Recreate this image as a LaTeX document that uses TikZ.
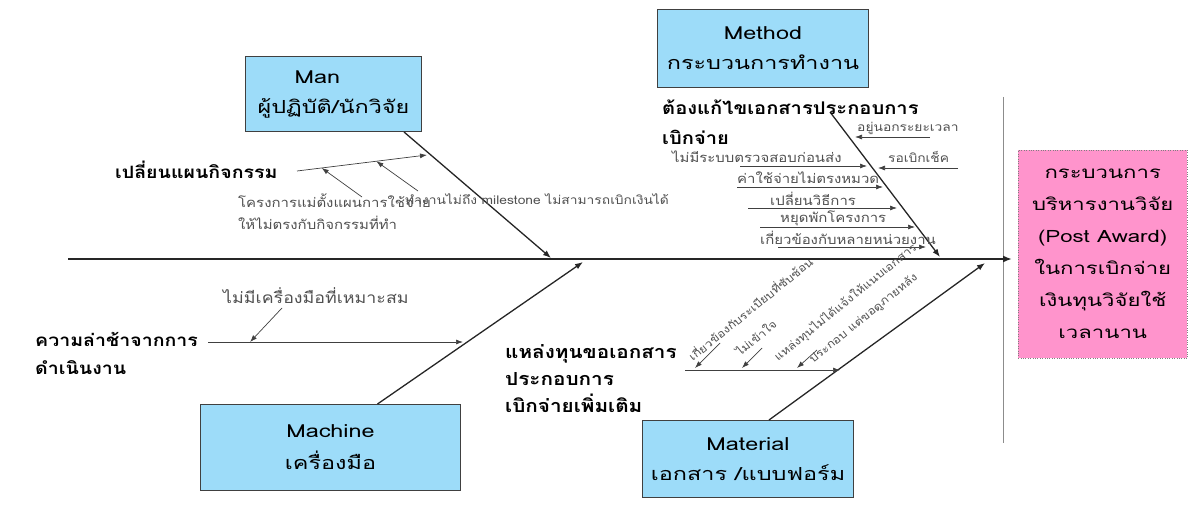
\documentclass[tikz,border=0pt]{standalone}
\usepackage{fontspec}
\setmainfont[Script=Thai,FakeStretch=1.3]{Loma}
\newfontfamily\notefont[Script=Thai,FakeStretch=1.15]{Loma}
\usetikzlibrary{arrows.meta,positioning,calc}
\definecolor{boxblue}{HTML}{9DDCF9}
\definecolor{effectpink}{HTML}{FF94CC}
\definecolor{notegray}{HTML}{505050}
\tikzset{
    catbox/.style={draw=black!75,fill=boxblue,line width=1pt,anchor=north west,inner sep=0pt,font=\fontsize{18}{30}\selectfont},
    effectbox/.style={draw=black!50,dotted,fill=effectpink,anchor=north west,inner sep=0pt,align=center,font=\fontsize{17}{32}\selectfont},
    spine/.style={line width=2.2pt,black!85,-{Latex[length=9pt,width=7pt]}},
    bone/.style={line width=1.3pt,black!85,-{Latex[length=8pt,width=6pt]}},
    twig/.style={line width=0.7pt,black!75,-{Latex[length=7pt,width=5pt]}},
    cause/.style={font=\notefont\bfseries\fontsize{17}{29}\selectfont,align=left,inner sep=0pt,anchor=west},
    note/.style={text=notegray,font=\notefont\fontsize{13}{22}\selectfont,align=left,inner sep=0pt,anchor=west},
    tilted/.style={text=notegray,font=\notefont\fontsize{11}{14}\selectfont,inner sep=0pt,anchor=south west,rotate=39},
}
\begin{document}
\begin{tikzpicture}[x=1pt,y=-1pt]
        \useasboundingbox (0,0) rectangle (1189,508);

        \node[effectbox,minimum width=169pt,minimum height=208pt] (effect) at (1018,150)
            {กระบวนการ\\บริหารงานวิจัย\\(Post Award)\\ในการเบิกจ่าย\\เงินทุนวิจัยใช้\\เวลานาน};
        \draw[black!45,line width=1pt] (1003,97) -- (1003,443);
        \coordinate (head) at (68,259);
        \draw[spine,shorten >=6pt] (head) -- (head -| effect.west);

        \node[catbox,minimum width=176pt,minimum height=75pt,align=left] (man) at (245,56)
            {\hspace*{37pt}Man\\ผู้ปฏิบัติ/นักวิจัย};
        \node[catbox,minimum width=211pt,minimum height=78pt,align=center] (method) at (657,9)
            {Method\\กระบวนการทำงาน};
        \node[catbox,minimum width=260pt,minimum height=86pt,align=center,font=\fontsize{18}{32}\selectfont] (machine) at (200,404)
            {Machine\\เครื่องมือ};
        \node[catbox,minimum width=211pt,minimum height=77pt,align=center] (material) at (642,420)
            {Material\\เอกสาร /แบบฟอร์ม};

        \coordinate (manfoot) at (551,258);
        \coordinate (methodtop) at (830,112);
        \coordinate (methodfoot) at (940,257);
        \coordinate (machinefoot) at (583,262);
        \coordinate (materialfoot) at (985,263);
        \draw[bone] ([xshift=-18pt]man.south east) -- (manfoot);
        \draw[bone] (methodtop) -- (methodfoot);
        \draw[bone] ([xshift=47pt]machine.north) -- (machinefoot);
        \draw[bone] ([xshift=21pt]material.north) -- (materialfoot);

        \node[cause] (plan) at (115,170) {เปลี่ยนแผนกิจกรรม};
        \coordinate (plantail) at (297,171);
        \coordinate (plantip) at (427,155);
        \draw[twig] (plantail) -- (plantip);
        \node[note] (budget) at (238,212) {โครงการแม่ตั้งแผนการใช้จ่าย\\ให้ไม่ตรงกับกิจกรรมที่ทำ};
        \node[note,font=\notefont\fontsize{12}{20}\selectfont] (milestone) at (405,199) {ทำงานไม่ถึง milestone ไม่สามารถเบิกเงินได้};
        \coordinate (budgettail) at (362,197);
        \coordinate (milestonetail) at (418,191);
        \draw[twig] (budgettail) -- ($(plantail)!0.19!(plantip)$);
        \draw[twig] (milestonetail) -- ($(plantail)!0.61!(plantip)$);

        \node[cause,font=\notefont\bfseries\fontsize{17.5}{30}\selectfont] (fixdoc) at (662,122) {ต้องแก้ไขเอกสารประกอบการ\\เบิกจ่าย};
        \node[note,font=\notefont\fontsize{12}{20}\selectfont] (outside) at (857,128) {อยู่นอกระยะเวลา};
        \coordinate (outsidetail) at (930,137);
        \draw[twig] (outsidetail) -- (855,137);
        \node[note,font=\notefont\fontsize{12}{20}\selectfont] (cheque) at (888,157) {รอเบิกเช็ค};
        \coordinate (chequetail) at (958,168);
        \draw[twig] (chequetail) -- (878,168);
        \foreach \n/\y/\xa/\xb/\tx/\txt in {
            1/166/740/867/672/ไม่มีระบบตรวจสอบก่อนส่ง,
            2/187/737/883/737/ค่าใช้จ่ายไม่ตรงหมวด,
            3/208/748/897/770/เปลี่ยนวิธีการ,
            4/227/760/915/780/หยุดพักโครงการ,
            5/247/778/926/760/เกี่ยวข้องกับหลายหน่วยงาน}
        {
            \coordinate (mtail\n) at (\xa,\y);
            \coordinate (mtip\n) at (\xb,\y);
            \draw[twig] (mtail\n) -- (mtip\n);
            \node[note] (mnote\n) at (\tx,\y-9) {\txt};
        }

        \node[cause,font=\notefont\bfseries\fontsize{17}{28}\selectfont] (delay) at (35,353) {ความล่าช้าจากการ\\ดำเนินงาน};
        \coordinate (delaytail) at (208,342);
        \coordinate (delaytip) at (463,342);
        \draw[twig] (delaytail) -- (delaytip);
        \node[note,font=\notefont\fontsize{15.5}{22}\selectfont] (notool) at (223,296) {ไม่มีเครื่องมือที่เหมาะสม};
        \coordinate (notooltail) at (282,308);
        \draw[twig] (notooltail) -- ($(delaytail)!0.165!(delaytip)$);

        \node[cause,font=\notefont\bfseries\fontsize{18}{27}\selectfont] (extradoc) at (505,379) {แหล่งทุนขอเอกสาร\\ประกอบการ\\เบิกจ่ายเพิ่มเติม};
        \coordinate (extratail) at (685,370);
        \coordinate (extratip) at (840,370);
        \draw[twig] (extratail) -- (extratip);
        \foreach \n/\xa/\ya/\xb in {1/720/343/695,2/762/348/742,3/817/350/797}
        {
            \coordinate (dtail\n) at (\xa,\ya);
            \draw[twig] (dtail\n) -- (\xb,368);
        }
        \node[tilted] (rules) at (693,362) {เกี่ยวข้องกับระเบียบที่ซับซ้อน};
        \node[tilted] (unclear) at (740,357) {ไม่เข้าใจ};
        \node[tilted] (notify) at (780,364) {แหล่งทุนไม่ได้แจ้งให้แนบเอกสาร};
        \node[tilted] (later) at (815,366) {ประกอบ แต่ขอดูภายหลัง};
\end{tikzpicture}
\end{document}
